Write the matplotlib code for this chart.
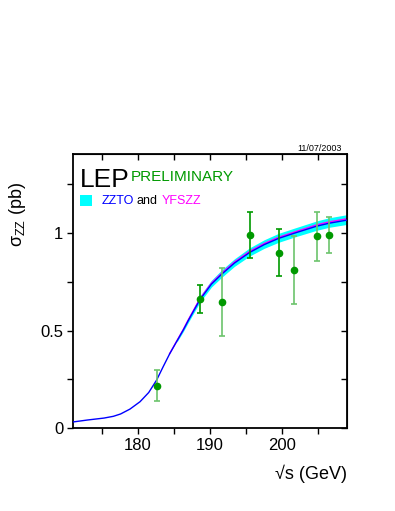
import matplotlib
matplotlib.use('Agg')
import matplotlib.pyplot as plt
import numpy as np
from matplotlib.ticker import MultipleLocator

plt.rcParams['font.family'] = ['Liberation Sans', 'DejaVu Sans']

# ZZTO theory curve
curve_x = [171.0, 173.0, 175.3, 176.6, 177.6, 178.9, 180.3, 181.5, 182.6, 183.5,
           184.4, 185.4, 186.3, 187.0, 188.6, 190.2, 191.6, 193.4, 195.5, 197.5,
           199.5, 201.7, 204.8, 206.5, 209.0]
curve_y = [0.031, 0.041, 0.051, 0.060, 0.072, 0.097, 0.135, 0.182, 0.246, 0.314,
           0.380, 0.445, 0.503, 0.552, 0.658, 0.738, 0.788, 0.846, 0.900, 0.940,
           0.972, 0.999, 1.035, 1.050, 1.066]
# ZZTO uncertainty band, drawn from about 185 GeV
band_x = [185.4, 186.3, 187.0, 188.6, 190.2, 191.6, 193.4, 195.5, 197.5,
          199.5, 201.7, 204.8, 206.5, 209.0]
band_lo = [0.440, 0.495, 0.542, 0.645, 0.723, 0.772, 0.829, 0.882, 0.921,
           0.952, 0.979, 1.014, 1.029, 1.044]
band_hi = [0.452, 0.515, 0.566, 0.676, 0.758, 0.810, 0.868, 0.924, 0.965,
           0.998, 1.025, 1.062, 1.078, 1.094]
# YFSZZ curve, slightly above ZZTO at high energy
yfs_x = [184.4, 185.4, 186.3, 187.0, 188.6, 190.2, 191.6, 193.4, 195.5, 197.5,
         199.5, 201.7, 204.8, 206.5, 209.0]
yfs_y = [0.381, 0.447, 0.506, 0.556, 0.663, 0.743, 0.794, 0.852, 0.906, 0.946,
         0.978, 1.005, 1.042, 1.057, 1.073]

# LEP combined measurements
ecm = [182.7, 188.6, 191.6, 195.5, 199.5, 201.7, 204.8, 206.5]
sigma = [0.217, 0.660, 0.648, 0.990, 0.899, 0.810, 0.983, 0.991]
sigma_err = [0.080, 0.071, 0.175, 0.120, 0.120, 0.175, 0.125, 0.093]
light = [True, False, True, False, False, True, True, True]

fig = plt.figure(figsize=(3.95, 5.11), dpi=100)
ax = fig.add_axes([0.1848, 0.1624, 0.6937, 0.5362])

ax.fill_between(band_x, band_lo, band_hi, color='#00ffff', lw=0, zorder=1)
ax.plot(yfs_x, yfs_y, color='#ff00ff', lw=1.0, zorder=2)
ax.plot(curve_x, curve_y, color='#0000ff', lw=1.0, zorder=3)

green = '#009900'
for x, y, e, lt in zip(ecm, sigma, sigma_err, light):
    col = '#6cc46c' if lt else green
    ax.errorbar([x], [y], yerr=[e], fmt='none', ecolor=col, elinewidth=1.2,
                capsize=2.5, capthick=1.2, zorder=4)
ax.plot(ecm, sigma, 'o', color=green, ms=4.5, zorder=5)

ax.set_xlim(171, 209)
ax.set_ylim(0, 1.405)
ax.xaxis.set_major_locator(MultipleLocator(10))
ax.xaxis.set_minor_locator(MultipleLocator(5))
ax.yaxis.set_major_locator(MultipleLocator(0.5))
ax.yaxis.set_minor_locator(MultipleLocator(0.25))
ax.set_yticks([0, 0.5, 1])
ax.set_yticklabels(['0', '0.5', '1'])
ax.tick_params(axis='both', which='both', direction='out', length=4, width=1,
               labelsize=12, pad=3)
for s in ax.spines.values():
    s.set_linewidth(1.3)

# mirrored ticks pointing inward on top and right
top = ax.secondary_xaxis('top')
top.xaxis.set_major_locator(MultipleLocator(5))
top.tick_params(direction='in', length=4, width=1, labeltop=False)
right = ax.secondary_yaxis('right')
right.yaxis.set_major_locator(MultipleLocator(0.25))
right.tick_params(direction='in', length=4, width=1, labelright=False)

fig.text(0.866, 0.700, '11/07/2003', fontsize=6.5, ha='right', va='bottom')
ax.text(0.025, 0.905, 'LEP', transform=ax.transAxes, fontsize=19, va='center')
ax.text(0.21, 0.917, 'PRELIMINARY', transform=ax.transAxes, fontsize=11,
        color=green, va='center')
ax.add_patch(plt.Rectangle((0.025, 0.81), 0.045, 0.042, transform=ax.transAxes,
                           color='#00ffff', lw=0))
ax.text(0.105, 0.83, 'ZZTO', transform=ax.transAxes, fontsize=9, color='#0000ff', va='center')
ax.text(0.232, 0.83, 'and', transform=ax.transAxes, fontsize=9, color='black', va='center')
ax.text(0.325, 0.83, 'YFSZZ', transform=ax.transAxes, fontsize=9, color='#ff00ff', va='center')

fig.text(0.045, 0.58, r'$\mathregular{\sigma_{ZZ}}$ (pb)', rotation=90, fontsize=13,
         ha='center', va='center')
fig.text(0.878, 0.073, '√s (GeV)', fontsize=13, ha='right', va='center')

fig.savefig('out.png', dpi=100)
